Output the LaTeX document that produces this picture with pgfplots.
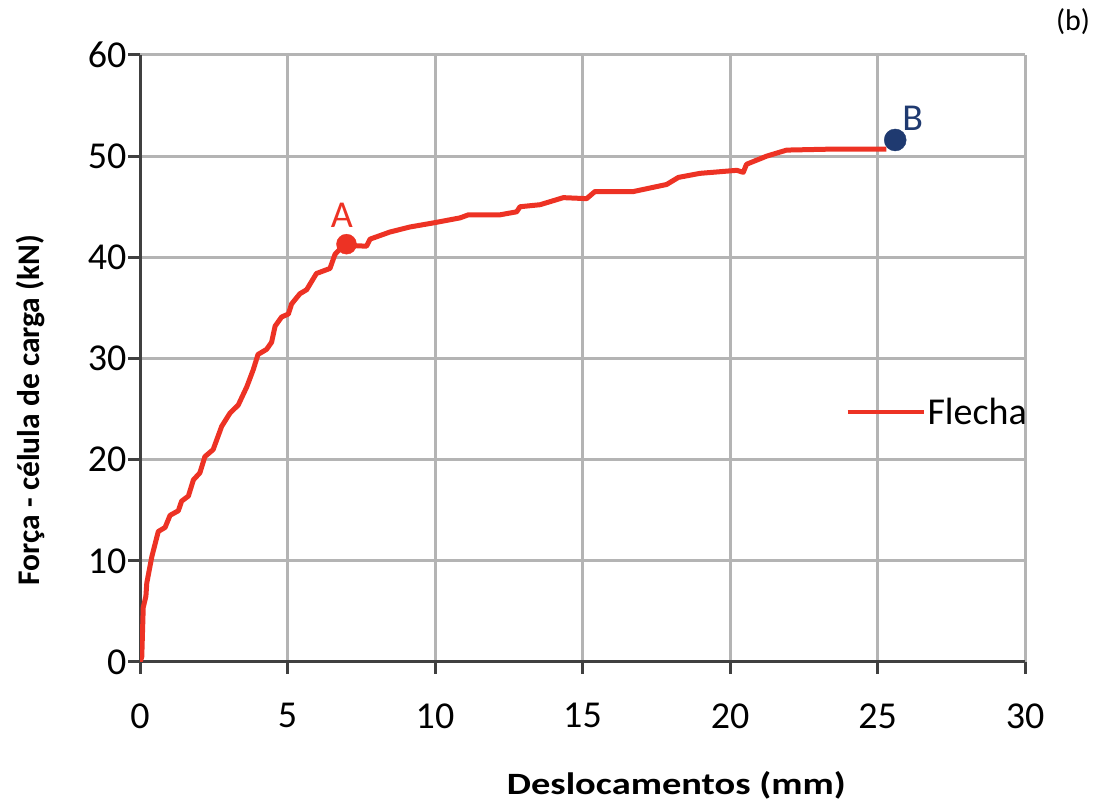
\documentclass[border=0pt]{standalone}
\usepackage{pgfplots}
\pgfplotsset{compat=1.18}
\usepackage{fontspec}
\setmainfont{Carlito}
\usepackage{graphicx}
\definecolor{cRed}{HTML}{ED3224}
\definecolor{cNavy}{HTML}{1F3A70}
\definecolor{cGrid}{HTML}{B4B4B4}
\definecolor{cAxis}{HTML}{404040}
\begin{document}
\begin{tikzpicture}
\path (0pt,0pt) rectangle (1094pt,805pt);
\begin{axis}[
  at={(140pt,143pt)}, anchor=south west,
  scale only axis, width=885pt, height=607pt,
  xmin=0, xmax=30, ymin=0, ymax=60,
  xtick={0,5,...,30}, ytick={0,10,...,60},
  axis lines=left, axis line style={-, cAxis, line width=3pt},
  grid=major, major grid style={cGrid, line width=3pt},
  tick style={cAxis, line width=3pt},
  tick align=outside, major tick length=12pt,
  ticklabel style={font=\fontsize{38}{42}\selectfont, text=black},
  /pgf/number format/assume math mode=true,
  xticklabel style={yshift=-26pt},
  yticklabel style={xshift=2pt},
  xlabel={\scalebox{1.24}[1]{\fontsize{31}{36}\selectfont\bfseries Deslocamentos (mm)}},
  ylabel={\fontsize{31.5}{36}\selectfont\bfseries Força - célula de carga (kN)},
  xlabel style={at={(axis description cs:0.606,-0.203)}, anchor=center},
  ylabel style={at={(axis description cs:-0.124,0.415)}, anchor=center},
  legend style={at={(0.797,0.412)}, anchor=west, draw=none, fill=none,
    font=\fontsize{38}{42}\selectfont, inner sep=0pt,
    nodes={inner sep=2pt}},
  legend image code/.code={\draw[#1, line width=4pt] (0pt,0pt) -- (76pt,0pt);},
]
\addplot[cRed, line width=5pt, line join=round] coordinates {
(0,0) (0.06,0.5) (0.11,5.4) (0.2,6.5) (0.23,7.8) (0.4,10.4) (0.62,12.9)
(0.85,13.3) (1.02,14.5) (1.3,14.95) (1.41,15.9) (1.64,16.4) (1.81,18.0)
(2.03,18.7) (2.2,20.3) (2.48,21.0) (2.77,23.3) (3.05,24.6) (3.33,25.4)
(3.62,27.2) (3.84,28.9) (4.0,30.4) (4.29,30.9) (4.46,31.6) (4.58,33.2)
(4.8,34.1) (5.03,34.4) (5.14,35.4) (5.42,36.4) (5.65,36.8) (5.98,38.4)
(6.44,38.9) (6.61,40.3) (6.9,41.2) (7.68,41.1) (7.8,41.8) (8.47,42.5)
(9.15,43.0) (9.94,43.4) (10.85,43.9) (11.13,44.2) (12.2,44.2) (12.77,44.5)
(12.88,45.0) (13.56,45.2) (14.35,45.9) (15.14,45.8) (15.42,46.5) (16.72,46.5)
(17.85,47.2) (18.25,47.9) (18.98,48.3) (20.23,48.6) (20.45,48.4) (20.56,49.2)
(21.24,50.0) (21.92,50.6) (23.5,50.7) (25.3,50.7)
};
\addlegendentry{Flecha}
\addplot[only marks, mark=*, mark size=10pt, cRed, forget plot] coordinates {(7.0,41.3)};
\addplot[only marks, mark=*, mark size=11pt, cNavy, forget plot] coordinates {(25.6,51.6)};
\node[text=cRed, font=\fontsize{38}{42}\selectfont] at (axis cs:6.84,44.2) {A};
\node[text=cNavy, font=\fontsize{38}{42}\selectfont] at (axis cs:26.19,53.7) {B};
\end{axis}
\node[font=\fontsize{30}{34}\selectfont] at (1073pt,783pt) {(b)};
\end{tikzpicture}
\end{document}
